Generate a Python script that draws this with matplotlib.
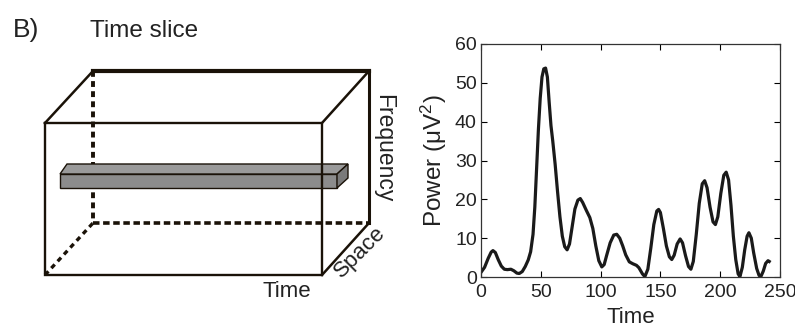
import matplotlib.pyplot as plt
from matplotlib.patches import Polygon

plt.rcParams['font.family'] = ['Liberation Sans', 'DejaVu Sans']

# --- data ---
time = [0, 3, 6, 8.5, 10, 12, 14.5, 17, 19.5, 22, 25, 27.5, 30, 32, 34.5, 37, 39.5,
        41.5, 43.5, 45, 46.5, 48, 49.5, 51, 52.5, 54, 55.5, 57, 58.5, 60, 62, 64, 66,
        68, 70, 72, 74, 76, 78.5, 81, 83, 85, 88, 91, 93.5, 96, 98.5, 101, 103, 105,
        108, 111, 113.5, 116, 118.5, 121, 124, 127, 130, 132, 135, 137, 139.5, 142,
        144.5, 147, 148.5, 150, 152.5, 155, 157.5, 159.5, 161.5, 164, 166.5, 168.5,
        171, 173.5, 175.5, 177.5, 180, 182.5, 185, 187, 189, 191.5, 194, 196, 198,
        200.5, 203, 205, 207, 209, 211, 213, 215, 216.5, 218.5, 220.5, 222.5, 224,
        226, 228, 230.5, 232.5, 234, 236, 238, 240, 241]
power = [1.2, 2.5, 4.8, 6.4, 6.8, 6.3, 4.4, 2.8, 2.0, 1.9, 2.0, 1.6, 1.0, 0.9, 1.4,
         2.7, 4.4, 6.5, 11, 18, 28, 38, 46, 51.5, 53.6, 53.8, 51.5, 45, 39, 35, 29,
         22, 15.5, 10.5, 7.8, 7.0, 8.5, 12.5, 17.5, 19.8, 20.2, 19.2, 17.2, 15.3,
         12.5, 8, 4.2, 2.6, 3.2, 5.5, 8.8, 10.8, 11.0, 10.0, 8.0, 5.7, 3.9, 3.4, 3.0,
         2.4, 0.8, 0.1, 2.0, 7.5, 13.5, 17.0, 17.4, 16.6, 12.5, 8.0, 5.2, 4.5, 5.6,
         8.5, 9.8, 8.8, 5.5, 2.7, 2.0, 4.0, 11, 19, 24, 24.8, 23, 18, 14.2, 13.5,
         15.5, 21.5, 26.2, 27.0, 25, 18.5, 10.5, 4.5, 0.8, 0.1, 2.5, 7.0, 10.5, 11.4,
         10.0, 6.2, 2.2, 0.4, 0.1, 1.5, 3.5, 4.2, 4.0]
xticks = [0, 50, 100, 150, 200, 250]
yticks = [0, 10, 20, 30, 40, 50, 60]

fig = plt.figure(figsize=(7.95, 3.3), dpi=100)

# ==========================================
# left panel: data cube sketch (pixel coords)
# ==========================================
ax0 = fig.add_axes([0, 0, 1, 1])
ax0.set_xlim(0, 795)
ax0.set_ylim(330, 0)
ax0.axis('off')

k = '#1a1208'
# hidden edges
ax0.plot([93, 93], [71, 223], color=k, lw=2.8, ls=(0, (1.5, 1.1)))
ax0.plot([93, 369], [223, 223], color=k, lw=2.6, ls=(0, (1.8, 1.0)))
ax0.plot([45, 93], [275, 223], color=k, lw=2.4, ls=(0, (1.5, 1.3)))

# time slice bar
ax0.add_patch(Polygon([(60, 174), (337, 174), (337, 188), (60, 188)], closed=True,
                      facecolor='#8c8c8c', edgecolor=k, lw=1.0, zorder=3))
ax0.add_patch(Polygon([(60, 174), (67, 164), (348, 164), (337, 174)], closed=True,
                      facecolor='#9a9a9a', edgecolor=k, lw=1.0, zorder=3))
ax0.add_patch(Polygon([(337, 174), (348, 164), (348, 178), (337, 188)], closed=True,
                      facecolor='#7a7a7a', edgecolor=k, lw=1.0, zorder=3))

# visible edges
ax0.plot([93, 369], [71, 71], color=k, lw=3.0, solid_capstyle='projecting')
ax0.plot([369, 369], [71, 223], color=k, lw=2.2)
ax0.plot([45, 93], [123, 71], color=k, lw=1.8)
ax0.plot([322, 369], [123, 71], color=k, lw=1.8)
ax0.plot([322, 369], [275, 223], color=k, lw=1.8)
ax0.plot([45, 322, 322, 45, 45], [123, 123, 275, 275, 123], color=k, lw=1.7,
         zorder=4, solid_joinstyle='miter')

ax0.text(13, 37, 'B)', fontsize=19, color='#222222', ha='left', va='baseline')
ax0.text(90, 37, 'Time slice', fontsize=17.5, color='#222222', ha='left', va='baseline')
ax0.text(287, 297, 'Time', fontsize=16, color='#222222', ha='center', va='baseline')
ax0.text(384, 148, 'Frequency', fontsize=16.5, color='#222222', ha='center',
         va='center', rotation=-90)
ax0.text(360, 252, 'Space', fontsize=16, color='#222222', ha='center',
         va='center', rotation=45)

# ==========================================
# right panel: power vs time
# ==========================================
ax = fig.add_axes([481 / 795, 53 / 330, 299 / 795, 233 / 330])
ax.plot(time, power, color='#1a1a1a', lw=2.3, solid_joinstyle='round')
ax.set_xlim(0, 250)
ax.set_ylim(0, 60)
ax.set_xticks(xticks)
ax.set_yticks(yticks)
ax.tick_params(direction='in', top=True, right=True, length=4, width=0.8,
               labelsize=14, labelcolor='#222222')
ax.tick_params(axis='x', pad=5)
ax.tick_params(axis='y', pad=3)
for s in ax.spines.values():
    s.set_linewidth(0.9)
    s.set_color('#333333')
ax.set_xlabel('Time', fontsize=16, color='#222222', labelpad=-3)
ax.set_ylabel(r'Power ($\mathregular{\mu V^2}$)', fontsize=17.5, color='#222222',
              labelpad=4)
ax.xaxis.set_label_coords(0.5, -0.13)

plt.savefig('out.png', dpi=100)
